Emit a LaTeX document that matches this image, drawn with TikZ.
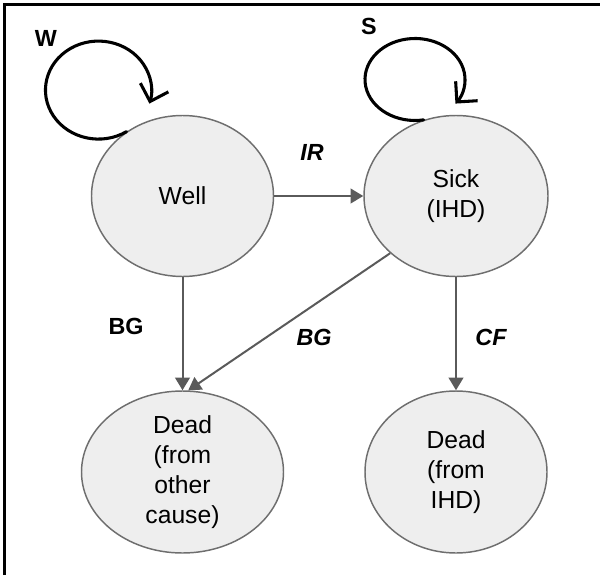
\documentclass[tikz,border=0pt]{standalone}
\usepackage{fontspec}
\setmainfont{Liberation Sans}
\usetikzlibrary{shapes.geometric,arrows.meta}
\definecolor{nodefill}{HTML}{EEEEEE}
\definecolor{nodeedge}{HTML}{6E6E6E}
\definecolor{arrowgray}{HTML}{5A5A5A}
\begin{document}
\begin{tikzpicture}[x=0.75pt,y=-0.75pt,
  state/.style={ellipse,draw=nodeedge,line width=1.1pt,fill=nodefill,inner sep=0pt,align=center,font=\fontsize{18.5}{22.5}\selectfont},
  trans/.style={draw=arrowgray,line width=1.5pt,-{Triangle[length=9.5pt,width=11pt]}},
  selfloop/.style={draw=black,line width=2.3pt,line cap=round,-{Straight Barb[length=11pt,width=22pt]}},
  lab/.style={inner sep=0pt,font=\fontsize{17.5}{20}\selectfont\bfseries},
  ilab/.style={inner sep=0pt,font=\fontsize{17.5}{20}\selectfont\bfseries\itshape}]
\useasboundingbox (0,0) rectangle (600,575);
\draw[line width=2.25pt] (4.5,575) -- (4.5,4.5) -- (600,4.5);

\node[state,minimum width=136.5pt,minimum height=120.75pt] (well) at (182.5,196) {Well};
\node[state,minimum width=138pt,minimum height=120.75pt] (sick) at (456,196) {Sick\\(IHD)};
\node[state,minimum width=151.5pt,minimum height=121.5pt] (dother) at (182.5,472) {Dead\\(from\\other\\cause)};
\node[state,minimum width=136.5pt,minimum height=121.5pt] (dihd) at (456,472) {Dead\\(from\\IHD)};

\draw[trans] (well) -- (sick);
\draw[trans] (well) -- (dother);
\draw[trans] (sick) -- (dihd);
\draw[trans] (sick.221.7) -- (dother.86);

\draw[selfloop] (well.131) arc[start angle=58, end angle=376, x radius=53, y radius=49];
\draw[selfloop] (sick.113) arc[start angle=80, end angle=396, x radius=50, y radius=41];

\node[lab] (lw) at (46,38) {W};
\node[lab] (ls) at (369,26) {S};
\node[ilab] (lir) at (312,152) {IR};
\node[lab] (lbg1) at (126,326) {BG};
\node[ilab] (lbg2) at (314,337) {BG};
\node[ilab] (lcf) at (491,337) {CF};
\end{tikzpicture}
\end{document}
